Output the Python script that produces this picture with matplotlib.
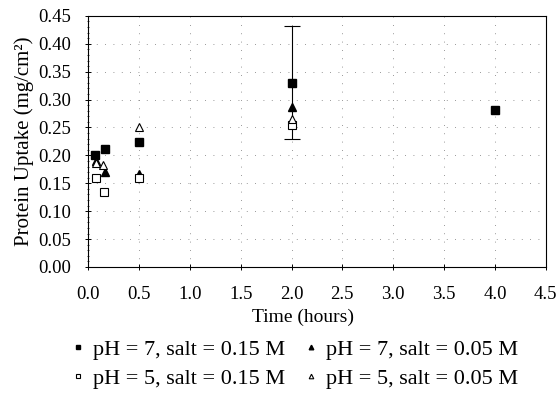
import numpy as np
import matplotlib.pyplot as plt

plt.rcParams['font.family'] = ['Liberation Serif', 'DejaVu Serif']

# data
t_sq7 = [0.07, 0.17, 0.5, 2.0, 4.0]
u_sq7 = [0.200, 0.211, 0.224, 0.330, 0.282]
t_tr7 = [0.08, 0.17, 0.5, 2.0]
u_tr7 = [0.190, 0.170, 0.167, 0.287]
t_sq5 = [0.08, 0.16, 0.5, 2.0]
u_sq5 = [0.160, 0.135, 0.159, 0.255]
t_tr5 = [0.08, 0.15, 0.5, 2.0]
u_tr5 = [0.186, 0.182, 0.250, 0.265]
err_t = 2.0
err_lo, err_hi = 0.230, 0.432
err_mid = 0.330

fig = plt.figure(figsize=(5.58, 4.07), dpi=100)
ax = fig.add_axes([0.158, 0.344, 0.82, 0.617])

ax.errorbar([err_t], [err_mid], yerr=[[err_mid - err_lo], [err_hi - err_mid]],
            fmt='none', ecolor='black', elinewidth=0.8, capsize=6, capthick=0.8, zorder=2)
h1, = ax.plot(t_sq7, u_sq7, 's', color='black', markersize=6, zorder=3)
h2, = ax.plot(t_tr7, u_tr7, '^', color='black', markersize=6, zorder=3)
h3, = ax.plot(t_sq5, u_sq5, 's', mfc='white', mec='black', mew=0.8, markersize=6, zorder=3)
h4, = ax.plot(t_tr5, u_tr5, '^', mfc='white', mec='black', mew=0.8, markersize=6, zorder=3)

ax.set_xlim(0, 4.5)
ax.set_ylim(0, 0.45)
xt = np.arange(0, 4.51, 0.5)
yt = np.arange(0, 0.451, 0.05)
ax.set_xticks(xt)
ax.set_yticks(yt)
ax.set_xticklabels(['%.1f' % v for v in xt])
ax.set_yticklabels(['%.2f' % v for v in yt])
ax.set_yticks(np.arange(0, 0.451, 0.01), minor=True)
ax.tick_params(axis='both', which='major', labelsize=13.5, direction='inout', length=5, width=0.7)
ax.tick_params(axis='y', which='minor', direction='inout', length=2, width=0.5)
ax.tick_params(axis='x', which='major', pad=11)
ax.tick_params(axis='y', which='major', pad=10)

ax.grid(True, which='major', color='#777777', linestyle=(0, (1, 9)), linewidth=0.6)
for s in ax.spines.values():
    s.set_linewidth(0.8)

ax.set_xlabel('Time (hours)', fontsize=14)
ax.xaxis.set_label_coords(0.47, -0.167)
ax.set_ylabel('Protein Uptake (mg/cm²)', fontsize=15, labelpad=3)

fig.legend([h1, h3, h2, h4],
           ['pH = 7, salt = 0.15 M', 'pH = 5, salt = 0.15 M',
            'pH = 7, salt = 0.05 M', 'pH = 5, salt = 0.05 M'],
           loc='upper left', bbox_to_anchor=(0.129, 0.167), ncol=2, frameon=False,
           fontsize=16, handlelength=0.5, handletextpad=0.45, columnspacing=0.9,
           labelspacing=0.4, markerscale=0.55, borderpad=0, borderaxespad=0)

fig.savefig('out.png', dpi=100)
